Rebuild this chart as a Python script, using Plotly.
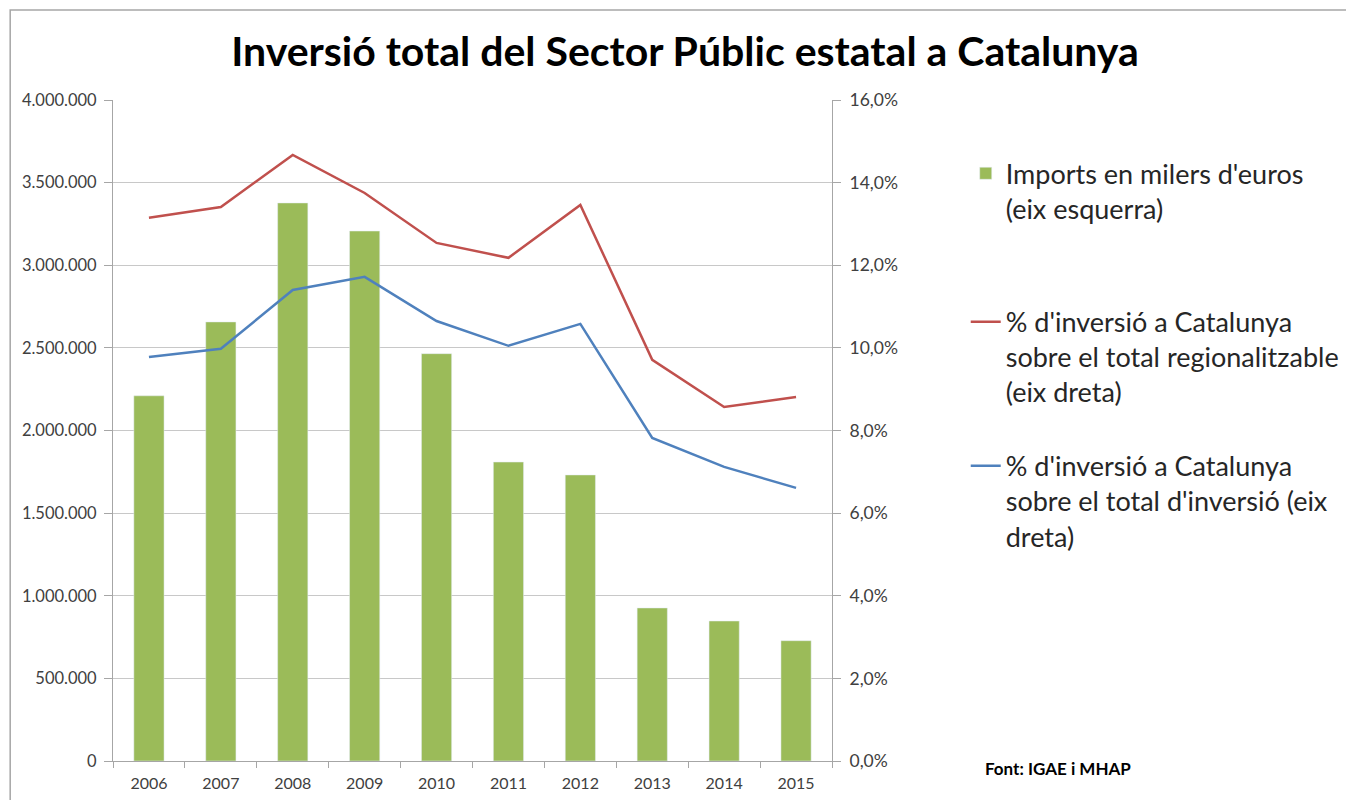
import plotly.graph_objects as go

years = ["2006", "2007", "2008", "2009", "2010", "2011", "2012", "2013", "2014", "2015"]
imports = [2210000, 2657000, 3377000, 3207000, 2465000, 1809000, 1731000, 926000, 847000, 728000]
pct_regional = [0.1315, 0.1341, 0.1467, 0.1375, 0.1254, 0.1218, 0.1346, 0.0971, 0.0857, 0.0881]
pct_total = [0.0978, 0.0998, 0.1140, 0.1172, 0.1065, 0.1005, 0.1058, 0.0782, 0.0712, 0.0661]

names = [
    "Imports en milers d'euros<br>(eix esquerra)",
    "% d'inversió a Catalunya<br>sobre el total regionalitzable<br>(eix dreta)",
    "% d'inversió a Catalunya<br>sobre el total d'inversió (eix<br>dreta)",
]

FONT = "Lato"
TXT = "#404040"

fig = go.Figure()
fig.add_trace(go.Bar(x=years, y=imports, name=names[0], marker_color="#9bbb59",
                     legend="legend", yaxis="y", showlegend=True))
fig.add_trace(go.Scatter(x=years, y=pct_regional, name=names[1], mode="lines",
                         line=dict(color="#c0504d", width=2.5), legend="legend2", yaxis="y2",
                         showlegend=True))
fig.add_trace(go.Scatter(x=years, y=pct_total, name=names[2], mode="lines",
                         line=dict(color="#4f81bd", width=2.5), legend="legend3", yaxis="y2",
                         showlegend=True))

leg_common = dict(x=1.186, xanchor="left", yanchor="middle", valign="top",
                  font=dict(size=27, color="#262626", family=FONT),
                  bgcolor="rgba(0,0,0,0)", itemwidth=30)

fig.update_layout(
    width=1354, height=800,
    margin=dict(l=105, r=530, t=92, b=47),
    paper_bgcolor="white", plot_bgcolor="white",
    separators=",.",
    bargap=0.58,
    showlegend=True,
    font=dict(family=FONT, color=TXT, size=16),
    title=dict(text="<b>Inversió total del Sector Públic estatal a Catalunya</b>",
               x=0.5, xref="container", xanchor="center", y=0.945, yref="container",
               yanchor="middle",
               font=dict(family=FONT, size=41, color="black")),
    xaxis=dict(type="category", showline=True, linecolor="#a6a6a6", linewidth=1,
               ticks="outside", tickson="boundaries", ticklen=6, tickcolor="#a6a6a6",
               ticklabelstandoff=8,
               showgrid=False, tickfont=dict(size=16, color=TXT)),
    yaxis=dict(range=[0, 4000000], dtick=500000, tickformat=",d", showline=True,
               linecolor="#a6a6a6", ticks="outside", ticklen=8, tickcolor="#a6a6a6",
               ticklabelstandoff=4,
               showgrid=True, gridcolor="#c8c8c8", gridwidth=1, zeroline=False,
               tickfont=dict(size=16.5, color=TXT)),
    yaxis2=dict(range=[0, 0.16], dtick=0.02, tickformat=".1%", overlaying="y", side="right",
                showline=True, linecolor="#a6a6a6", ticks="outside", ticklen=8,
                tickcolor="#a6a6a6", showgrid=False, zeroline=False, ticklabelstandoff=5,
                tickfont=dict(size=17.5, color=TXT)),
    legend=dict(y=0.862, **leg_common),
    legend2=dict(y=0.611, **leg_common),
    legend3=dict(y=0.393, **leg_common),
    shapes=[dict(type="rect", xref="paper", yref="paper", x0=-0.143, x1=2.0, y0=-0.3, y1=1.136,
                 line=dict(color="#a6a6a6", width=1.5), fillcolor="rgba(0,0,0,0)", layer="below")],
    annotations=[dict(text="<b>Font: IGAE i MHAP</b>", xref="paper", yref="paper",
                      x=1.21, y=-0.012, xanchor="left", yanchor="middle", showarrow=False,
                      font=dict(size=17, color="black"))],
)

fig.write_html("out.html")
